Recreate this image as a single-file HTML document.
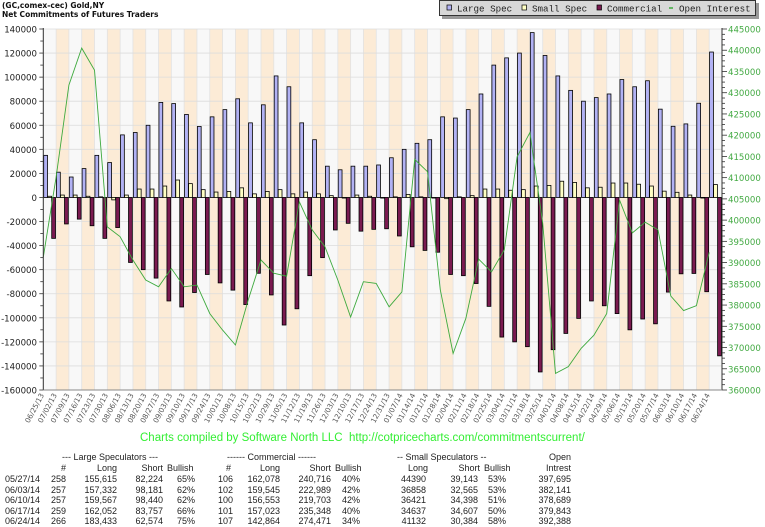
<!DOCTYPE html>
<html><head><meta charset="utf-8">
<style>
html,body{margin:0;padding:0;background:#fff;}
body{width:765px;height:527px;position:relative;overflow:hidden;font-family:"Liberation Sans",sans-serif;}
.t{position:absolute;font-family:"Liberation Sans",sans-serif;font-size:9px;color:#222;white-space:nowrap;line-height:10px;}
.r{text-align:right;}
</style></head>
<body>
<div style="position:absolute;left:2px;top:1px;font-family:'DejaVu Sans',sans-serif;font-weight:bold;font-size:7.5px;line-height:9px;color:#111;">(GC,comex-cec) Gold,NY<br>Net Commitments of Futures Traders</div>
<svg id="chart" width="765" height="450" style="position:absolute;left:0;top:0;" xmlns="http://www.w3.org/2000/svg"></svg>
<div style="position:absolute;left:140px;top:432px;width:490px;font-size:11.5px;color:#33ee33;white-space:nowrap;">Charts compiled by Software North LLC&nbsp; http://cotpricecharts.com/commitmentscurrent/</div>
<div id="table"></div>
<script>
const dates=["06/25/13","07/02/13","07/09/13","07/16/13","07/23/13","07/30/13","08/06/13","08/13/13","08/20/13","08/27/13","09/03/13","09/10/13","09/17/13","09/24/13","10/01/13","10/08/13","10/15/13","10/22/13","10/29/13","11/05/13","11/12/13","11/19/13","11/26/13","12/03/13","12/10/13","12/17/13","12/24/13","12/31/13","01/07/14","01/14/14","01/21/14","01/28/14","02/04/14","02/11/14","02/18/14","02/25/14","03/04/14","03/11/14","03/18/14","03/25/14","04/01/14","04/08/14","04/15/14","04/22/14","04/29/14","05/06/14","05/13/14","05/20/14","05/27/14","06/03/14","06/10/14","06/17/14","06/24/14"];
const largeSpec=[35000,21000,17000,24000,35000,29000,52000,54000,60000,79000,78000,69000,59000,67000,73000,82000,62000,77000,101000,92000,62000,48000,26000,23000,26000,26000,27000,33000,40000,45000,48000,67000,66000,73000,86000,110000,116000,120000,137000,118000,101000,89000,80000,83000,86000,98000,92000,97000,73391,59151,61127,78295,120859];
const smallSpec=[1000,2000,2000,1000,500,-2000,2000,7000,7000,9500,14500,11500,6500,4500,5000,8000,3000,5000,6500,3000,4500,3000,1500,-500,2000,1000,-500,500,2500,500,0,-1000,500,1500,7000,7000,6000,6500,9500,10000,13500,12500,8000,8500,12000,12000,11000,9500,5247,4293,2023,30,10748];
const commercial=[-34000,-22000,-18000,-23500,-34000,-25000,-54000,-60000,-67000,-86000,-91000,-79000,-64000,-71000,-77000,-89000,-63000,-81000,-106000,-92500,-65000,-50000,-27000,-21500,-28000,-26500,-26000,-32000,-41000,-44000,-45500,-64000,-65000,-71500,-90500,-116000,-120000,-124000,-145000,-126500,-113000,-100500,-86000,-90000,-96500,-110000,-101000,-105000,-78638,-63444,-63150,-78325,-131607];
const openInterest=[391300,410100,431800,440500,435300,398400,396100,390600,385900,384300,388600,384300,384700,378000,374100,370600,381200,390600,387500,386800,404300,397700,393700,385900,377200,385500,385100,379600,383100,414300,411400,383600,368600,376900,390800,387800,393000,414900,420600,399300,363900,365500,369800,372900,378000,404700,397000,399500,397695,382141,378689,379843,392388];
const leftTicks=[140000,120000,100000,80000,60000,40000,20000,0,-20000,-40000,-60000,-80000,-100000,-120000,-140000,-160000];
const rightTicks=[445000,440000,435000,430000,425000,420000,415000,410000,405000,400000,395000,390000,385000,380000,375000,370000,365000,360000];
const legendItems=["Large Spec","Small Spec","Commercial","Open Interest"];

const L=43.3,R=722,T=29,B=390;
const LMIN=-160000,LMAX=140000,RMIN=360000,RMAX=445000;
const n=dates.length, W=(R-L)/n;
function xs(i){return L+i*W;}
function yL(v){return T+(LMAX-v)/(LMAX-LMIN)*(B-T);}
function yR(v){return T+(RMAX-v)/(RMAX-RMIN)*(B-T);}
const svg=document.getElementById('chart');
const NS="http://www.w3.org/2000/svg";
function mk(tag,attrs,parent){const e=document.createElementNS(NS,tag);for(const k in attrs)e.setAttribute(k,attrs[k]);(parent||svg).appendChild(e);return e;}

const bg=mk('g',{});


for(let i=0;i<n;i++){
  const r=mk('rect',{x:xs(i),y:T,width:W,height:B-T,fill:(i%2?'#fcebd6':'#f8f8f8')},bg);
  
  
  mk('line',{x1:xs(i),x2:xs(i),y1:T,y2:B,stroke:'#e2e2e2','stroke-width':0.8},bg);
}
const grid=mk('g',{});


leftTicks.forEach(v=>{mk('line',{x1:L,x2:R,y1:yL(v),y2:yL(v),stroke:'#dcdcdc','stroke-width':0.8},grid);});

const bars=mk('g',{});


const bw=3.8;
function bar(x,v,fill,name){
  const y0=yL(0),y1=yL(v);
  const r=mk('rect',{x:x,y:Math.min(y0,y1),width:bw,height:Math.max(0.6,Math.abs(y1-y0)),fill:fill,stroke:'#000','stroke-width':0.8},bars);
  
  
}
for(let i=0;i<n;i++){
  const s=xs(i);
  bar(s+0.4,largeSpec[i],'#b2b2f4','large-spec-bar');
  bar(s+4.4,smallSpec[i],'#ffffc4','small-spec-bar');
  bar(s+8.4,commercial[i],'#7a1a50','commercial-bar');
}
let pts=openInterest.map((v,i)=>xs(i).toFixed(1)+','+yR(v).toFixed(1)).join(' ');
const oi=mk('polyline',{points:pts,fill:'none',stroke:'#3eaa3e','stroke-width':0.9});



// axes
const ax=mk('g',{});


mk('line',{x1:L,x2:L,y1:T-1,y2:B,stroke:'#333','stroke-width':1},ax);
mk('line',{x1:R,x2:R,y1:T-1,y2:B,stroke:'#333','stroke-width':1},ax);
mk('line',{x1:L,x2:R,y1:B,y2:B,stroke:'#888','stroke-width':1},ax);
for(let v=LMIN;v<=LMAX;v+=10000){mk('line',{x1:L-(v%20000===0?4:3),x2:L,y1:yL(v),y2:yL(v),stroke:'#333','stroke-width':0.8},ax);}
for(let v=RMIN;v<=RMAX;v+=1250){mk('line',{x1:R,x2:R+(v%5000===0?5:3),y1:yR(v),y2:yR(v),stroke:'#333','stroke-width':0.8},ax);}
leftTicks.forEach(v=>{
  const t=mk('text',{x:37,y:yL(v)+3.5,'text-anchor':'end','font-family':'DejaVu Sans, sans-serif','font-size':'8.6',fill:'#222'},ax);
  t.textContent=v;
  
  
});
rightTicks.forEach(v=>{
  const t=mk('text',{x:728,y:yR(v)+3.5,'font-family':'DejaVu Sans, sans-serif','font-size':'8.6',fill:'#44aa44'},ax);
  t.textContent=v;
  
  
});
dates.forEach((d,i)=>{
  const x=xs(i)+1,y=395;
  const t=mk('text',{x:x,y:y,'text-anchor':'end','font-family':'DejaVu Sans, sans-serif','font-size':'7.2',fill:'#555',transform:'rotate(-62 '+x+' '+y+')'},ax);
  t.textContent=d;
  
  
});

// legend
const lg=mk('g',{});


mk('rect',{x:442,y:3,width:317,height:16,fill:'#999'},lg);
mk('rect',{x:439.5,y:0.5,width:316,height:15,fill:'#d8d8d8',stroke:'#333','stroke-width':1},lg);
const lx=[447,522,597,669], lfill=['#b2b2f4','#ffffc4','#7a1a50'];
legendItems.forEach((s,i)=>{
  const e=mk('g',{},lg);
  
  
  if(i<3) mk('rect',{x:lx[i],y:5,width:4.5,height:5,fill:lfill[i],stroke:'#000','stroke-width':0.7},e);
  else mk('line',{x1:lx[i],x2:lx[i]+4,y1:8,y2:8,stroke:'#3eaa3e','stroke-width':1.5},e);
  const t=mk('text',{x:lx[i]+10,y:11.5,'font-family':'Liberation Mono, monospace','font-size':'9.2',fill:'#222'},e);
  t.textContent=s;
});

// table
const rowsDate=["05/27/14","06/03/14","06/10/14","06/17/14","06/24/14"];
const rowsData=[
["258","155,615","82,224","65%","106","162,078","240,716","40%","44390","39,143","53%","397,695"],
["257","157,332","98,181","62%","102","159,545","222,989","42%","36858","32,565","53%","382,141"],
["257","159,567","98,440","62%","100","156,553","219,703","42%","36421","34,398","51%","378,689"],
["259","162,052","83,757","66%","101","157,023","235,348","40%","34637","34,607","50%","379,843"],
["266","183,433","62,574","75%","107","142,864","274,471","34%","41132","30,384","58%","392,388"]];
const tb=document.getElementById('table');
function cell(txt,x,y,right,name){
  const d=document.createElement('div');
  d.className='t'+(right?' r':'');
  d.textContent=txt;
  if(right){d.style.left=(x-80)+'px';d.style.width='80px';}else d.style.left=x+'px';
  d.style.top=(y-5)+'px';
  
  
  tb.appendChild(d);
}
cell("--- Large Speculators ---",62,457,false,'group-header');
cell("------ Commercial ------",227,457,false,'group-header');
cell("-- Small Speculators --",397,457,false,'group-header');
cell("Open",571,457,true,'group-header');
const h2=[["#",66,1],["Long",117,1],["Short",163,1],["Bullish",167,0],["#",231,1],["Long",280,1],["Short",331,1],["Bullish",335,0],["Long",428,1],["Short",480,1],["Bullish",484,0],["Intrest",571,1]];
h2.forEach(h=>cell(h[0],h[1],468,!!h[2],'column-header'));
const cx=[[66,1],[117,1],[163,1],[177,0],[233,1],[280,1],[331,1],[342,0],[426,1],[478,1],[488,0],[571,1]];
rowsDate.forEach((d,r)=>{
  const y=479+r*10.5;
  cell(d,5,y,false,'row-date');
  rowsData[r].forEach((v,c)=>cell(v,cx[c][0],y,!!cx[c][1],'table-cell'));
});
</script>
</body></html>
